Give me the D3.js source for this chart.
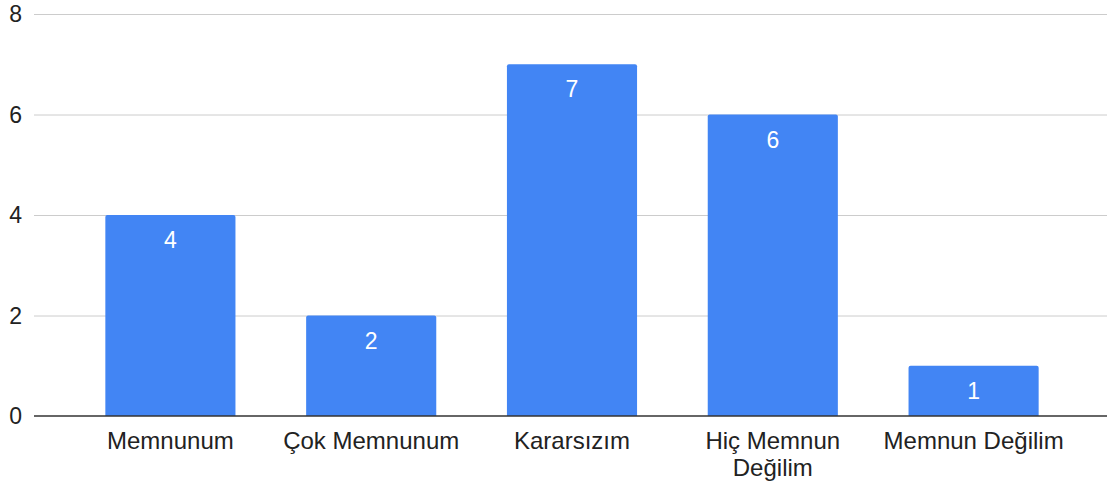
<!DOCTYPE html>
<html><head><meta charset="utf-8">
<script src="https://cdn.jsdelivr.net/npm/d3@7"></script>
<style>
html,body{margin:0;padding:0;background:#fff;}
svg{display:block;font-family:"Liberation Sans",Arial,sans-serif;}
</style></head>
<body><svg id="chart" width="1110" height="489"></svg>
<script>
const categories = ["Memnunum", "Çok Memnunum", "Kararsızım", "Hiç Memnun Değilim", "Memnun Değilim"];
const categoryLines = [["Memnunum"], ["Çok Memnunum"], ["Kararsızım"], ["Hiç Memnun", "Değilim"], ["Memnun Değilim"]];
const values = [4, 2, 7, 6, 1];
const yTicks = [0, 2, 4, 6, 8];

const svg = d3.select("#chart");
const gridLeft = 34, gridRight = 1107;
const y = d3.scaleLinear().domain([0, 8]).range([416, 14]);
const x = d3.scaleBand().domain(categories).range([70, 1074]).paddingInner(0.352).paddingOuter(0.176);

// gridlines
svg.append("g").selectAll("line").data(yTicks.filter(d => d !== 0)).join("line")
  .attr("x1", gridLeft).attr("x2", gridRight)
  .attr("y1", d => y(d) + 0.5).attr("y2", d => y(d) + 0.5)
  .attr("stroke", "#cccccc").attr("stroke-width", 1);

// y labels
svg.append("g").selectAll("text").data(yTicks).join("text")
  .attr("x", 22).attr("y", d => y(d) + 8)
  .attr("text-anchor", "end").attr("font-size", 23).attr("fill", "#222")
  .text(d => d);

// bars with rounded top corners
const r = 2;
svg.append("g").selectAll("path").data(values).join("path")
  .attr("fill", "#4285f4")
  .attr("d", (d, i) => {
    const x0 = x(categories[i]), w = x.bandwidth(), y0 = y(d), yb = y(0);
    return `M${x0},${yb} V${y0 + r} Q${x0},${y0} ${x0 + r},${y0} H${x0 + w - r} Q${x0 + w},${y0} ${x0 + w},${y0 + r} V${yb} Z`;
  });

// value labels
svg.append("g").selectAll("text").data(values).join("text")
  .attr("x", (d, i) => x(categories[i]) + x.bandwidth() / 2)
  .attr("y", d => y(d) + 33)
  .attr("text-anchor", "middle").attr("font-size", 23).attr("fill", "#ffffff")
  .text(d => d);

// baseline
svg.append("line")
  .attr("x1", gridLeft).attr("x2", gridRight)
  .attr("y1", y(0)).attr("y2", y(0))
  .attr("stroke", "#333333").attr("stroke-width", 1.5);

// category labels
const cat = svg.append("g").selectAll("text").data(categories).join("text")
  .attr("text-anchor", "middle").attr("font-size", 24).attr("fill", "#222")
  .attr("x", d => x(d) + x.bandwidth() / 2)
  .attr("y", 449);
cat.each(function(d, i) {
  const t = d3.select(this);
  categoryLines[i].forEach((ln, j) => {
    t.append("tspan").attr("x", x(d) + x.bandwidth() / 2).attr("dy", j === 0 ? 0 : 27).text(ln);
  });
});
</script>
</body></html>
